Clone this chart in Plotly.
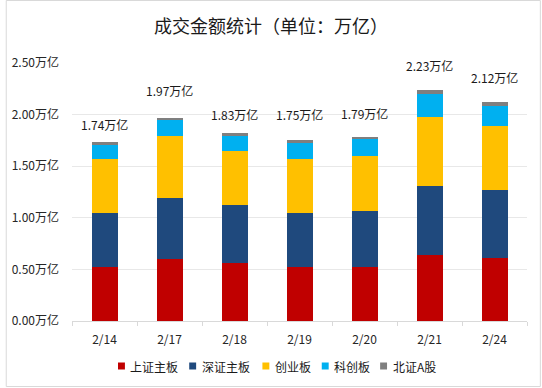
import plotly.graph_objects as go

dates = ["2/14", "2/17", "2/18", "2/19", "2/20", "2/21", "2/24"]
sh_main = [0.52, 0.60, 0.56, 0.52, 0.52, 0.64, 0.61]
sz_main = [0.53, 0.59, 0.56, 0.53, 0.55, 0.67, 0.655]
chinext = [0.52, 0.60, 0.53, 0.52, 0.53, 0.665, 0.62]
star = [0.14, 0.16, 0.145, 0.155, 0.16, 0.226, 0.195]
bse = [0.026, 0.02, 0.026, 0.025, 0.022, 0.035, 0.038]
totals = [1.74, 1.97, 1.83, 1.75, 1.79, 2.23, 2.12]
series_names = ["上证主板", "深证主板", "创业板", "科创板", "北证A股"]
y_ticks = [0.0, 0.5, 1.0, 1.5, 2.0, 2.5]

colors = ["#C00000", "#1F497D", "#FFC000", "#00B0F0", "#7F7F7F"]
# label vertical offsets (px) above bar tops, as placed in the original
label_shift = [9, 20, 10, 18, 15, 18, 17]
# legend marker centres (px from figure left)
legend_px = [117, 189, 263, 323, 382]

FONT = "Noto Sans CJK SC"
W, H = 542, 388
ml, mr, mt, mb = 67, 15, 63, 67
pw, ph = W - ml - mr, H - mt - mb

fig = go.Figure()
for name, vals, c in zip(series_names, [sh_main, sz_main, chinext, star, bse], colors):
    fig.add_trace(go.Bar(x=dates, y=vals, name=name, marker=dict(color=c, line=dict(width=0))))

for d, t, s in zip(dates, totals, label_shift):
    fig.add_annotation(x=d, y=t, text=f"{t:.2f}万亿", showarrow=False, yanchor="bottom",
                       yshift=s - 3, font=dict(family=FONT, size=12, color="#1a1a1a"))

# border around the whole chart
fig.add_shape(type="rect", xref="paper", yref="paper",
              x0=-(ml - 0.5) / pw, x1=1 + (mr - 1.5) / pw,
              y0=-(mb - 1.5) / ph, y1=1 + (mt - 0.5) / ph,
              line=dict(color="#D9D9D9", width=1), layer="below")

# legend (Excel style: small squares, compact spacing)
fx = lambda p: (p - ml) / pw
fy = lambda p: (H - mb - p) / ph
for name, c, px in zip(series_names, colors, legend_px):
    fig.add_shape(type="rect", xref="paper", yref="paper",
                  x0=fx(px - 3.5), x1=fx(px + 3.5), y0=fy(366 + 3.5), y1=fy(366 - 3.5),
                  fillcolor=c, line=dict(width=0))
    fig.add_annotation(xref="paper", yref="paper", x=fx(px + 7), y=fy(366), text=name,
                       showarrow=False, xanchor="left", yanchor="middle",
                       font=dict(family=FONT, size=12, color="#1a1a1a"))

fig.update_layout(
    width=W, height=H,
    margin=dict(l=ml, r=mr, t=mt, b=mb),
    barmode="stack", bargap=0.6,
    paper_bgcolor="white", plot_bgcolor="white",
    font=dict(family=FONT, size=12, color="#262626"),
    title=dict(text="成交金额统计（单位：万亿）", x=0.5, xanchor="center", y=1 - 27 / H, yanchor="middle",
               font=dict(family=FONT, size=18, color="#1a1a1a")),
    showlegend=False,
    xaxis=dict(type="category", showline=True, linecolor="#D9D9D9", linewidth=1,
               ticks="outside", tickson="boundaries", ticklen=4, tickcolor="#D9D9D9",
               tickfont=dict(family=FONT, size=12, color="#262626"), showgrid=False,
               ticklabelstandoff=8),
    yaxis=dict(range=[0, 2.5], tickvals=y_ticks, ticktext=[f"{v:.2f}万亿" for v in y_ticks],
               showgrid=True, gridcolor="#E8E8E8", gridwidth=1, zeroline=False, showline=False,
               tickfont=dict(family=FONT, size=12, color="#262626"), ticks="", ticklabelstandoff=12),
)
fig.write_html("out.html", config={"displayModeBar": False},
               post_script="document.body.style.margin='0';document.body.style.overflow='hidden';")
